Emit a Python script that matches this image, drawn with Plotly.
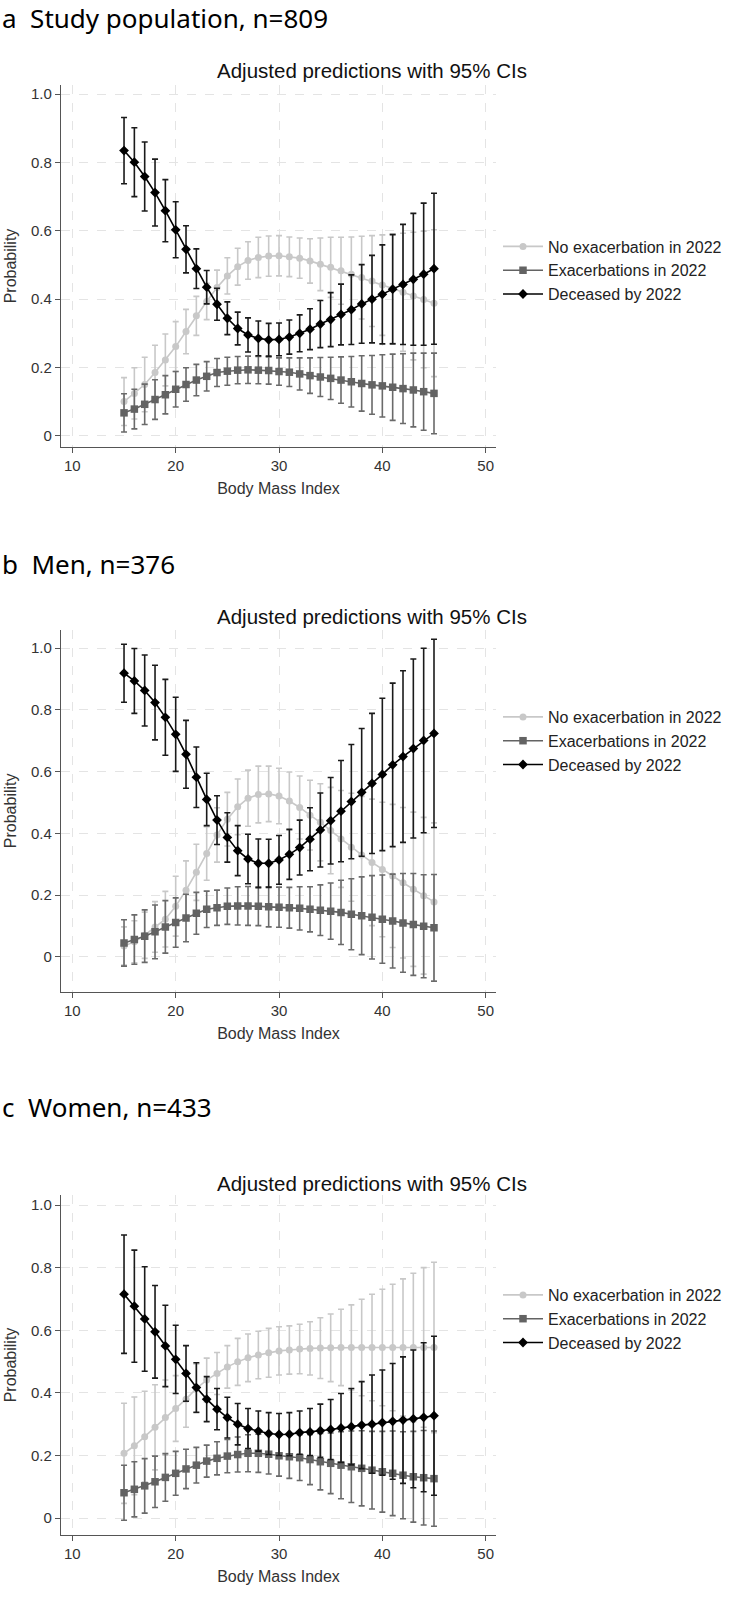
import plotly.graph_objects as go

W, H = 734, 1617

bmi = [15, 16, 17, 18, 19, 20, 21, 22, 23, 24, 25, 26, 27, 28, 29, 30,
       31, 32, 33, 34, 35, 36, 37, 38, 39, 40, 41, 42, 43, 44, 45]

series_names = ["No exacerbation in 2022", "Exacerbations in 2022", "Deceased by 2022"]

# ---- Panel a: Study population ----
a_noexac = [0.100, 0.124, 0.150, 0.185, 0.222, 0.261, 0.305, 0.351, 0.393, 0.434, 0.468,
            0.495, 0.513, 0.522, 0.526, 0.527, 0.524, 0.520, 0.512, 0.502, 0.493, 0.483,
            0.473, 0.463, 0.453, 0.441, 0.431, 0.420, 0.409, 0.399, 0.388]
a_noexac_ci = [0.070, 0.075, 0.080, 0.080, 0.076, 0.073, 0.065, 0.057, 0.053, 0.051, 0.053,
               0.054, 0.055, 0.059, 0.059, 0.059, 0.058, 0.059, 0.065, 0.077, 0.088, 0.098,
               0.109, 0.121, 0.133, 0.147, 0.160, 0.173, 0.187, 0.200, 0.215]
a_exac = [0.067, 0.078, 0.092, 0.106, 0.120, 0.136, 0.150, 0.163, 0.174, 0.185, 0.189,
          0.192, 0.193, 0.192, 0.191, 0.188, 0.186, 0.181, 0.176, 0.172, 0.168, 0.163,
          0.158, 0.153, 0.149, 0.146, 0.142, 0.138, 0.134, 0.129, 0.124]
a_exac_ci = [0.056, 0.058, 0.059, 0.058, 0.056, 0.052, 0.049, 0.046, 0.043, 0.041, 0.041,
             0.040, 0.040, 0.040, 0.040, 0.040, 0.042, 0.047, 0.052, 0.057, 0.062, 0.068,
             0.074, 0.081, 0.086, 0.091, 0.097, 0.102, 0.108, 0.113, 0.118]
a_dead = [0.835, 0.801, 0.759, 0.712, 0.659, 0.603, 0.546, 0.489, 0.435, 0.385, 0.344,
          0.314, 0.295, 0.285, 0.281, 0.282, 0.289, 0.300, 0.312, 0.327, 0.340, 0.355,
          0.369, 0.386, 0.400, 0.414, 0.429, 0.443, 0.458, 0.473, 0.489]
a_dead_ci = [0.097, 0.101, 0.101, 0.098, 0.091, 0.082, 0.069, 0.058, 0.049, 0.047, 0.048,
             0.048, 0.050, 0.051, 0.048, 0.048, 0.050, 0.054, 0.060, 0.069, 0.079, 0.089,
             0.102, 0.115, 0.128, 0.145, 0.160, 0.176, 0.193, 0.208, 0.221]

# ---- Panel b: Men ----
b_noexac = [0.035, 0.049, 0.070, 0.097, 0.122, 0.164, 0.216, 0.274, 0.335, 0.395, 0.446,
            0.486, 0.514, 0.526, 0.528, 0.521, 0.505, 0.484, 0.459, 0.436, 0.409, 0.382,
            0.355, 0.330, 0.306, 0.283, 0.262, 0.240, 0.219, 0.198, 0.178]
b_noexac_ci = [0.062, 0.068, 0.075, 0.082, 0.090, 0.097, 0.095, 0.091, 0.087, 0.088, 0.087,
               0.090, 0.091, 0.092, 0.090, 0.090, 0.094, 0.102, 0.113, 0.125, 0.140, 0.157,
               0.175, 0.190, 0.205, 0.218, 0.232, 0.244, 0.250, 0.254, 0.256]
b_exac = [0.045, 0.056, 0.067, 0.081, 0.097, 0.111, 0.126, 0.141, 0.154, 0.159, 0.164,
          0.165, 0.165, 0.164, 0.162, 0.161, 0.159, 0.157, 0.154, 0.151, 0.148, 0.144,
          0.138, 0.133, 0.128, 0.122, 0.116, 0.110, 0.105, 0.099, 0.094]
b_exac_ci = [0.075, 0.080, 0.085, 0.087, 0.085, 0.080, 0.077, 0.068, 0.059, 0.057, 0.059,
             0.062, 0.063, 0.063, 0.065, 0.065, 0.066, 0.070, 0.073, 0.082, 0.091, 0.104,
             0.115, 0.126, 0.135, 0.143, 0.152, 0.160, 0.165, 0.167, 0.173]
b_dead = [0.919, 0.894, 0.863, 0.824, 0.776, 0.721, 0.656, 0.582, 0.510, 0.443, 0.387,
          0.344, 0.317, 0.303, 0.303, 0.314, 0.332, 0.354, 0.381, 0.411, 0.441, 0.472,
          0.503, 0.533, 0.562, 0.591, 0.622, 0.649, 0.675, 0.701, 0.724]
b_dead_ci = [0.094, 0.105, 0.115, 0.121, 0.123, 0.120, 0.110, 0.098, 0.085, 0.079, 0.080,
             0.081, 0.080, 0.079, 0.078, 0.079, 0.081, 0.089, 0.102, 0.120, 0.140, 0.164,
             0.185, 0.207, 0.227, 0.247, 0.265, 0.278, 0.290, 0.299, 0.305]

# ---- Panel c: Women ----
c_noexac = [0.207, 0.231, 0.260, 0.290, 0.321, 0.350, 0.380, 0.414, 0.441, 0.462, 0.483,
            0.499, 0.512, 0.521, 0.528, 0.534, 0.537, 0.540, 0.542, 0.543, 0.544, 0.545,
            0.545, 0.545, 0.545, 0.545, 0.545, 0.545, 0.545, 0.545, 0.545]
c_noexac_ci = [0.160, 0.156, 0.145, 0.136, 0.120, 0.105, 0.090, 0.078, 0.070, 0.067, 0.068,
               0.075, 0.076, 0.076, 0.078, 0.077, 0.077, 0.079, 0.085, 0.097, 0.108, 0.122,
               0.136, 0.154, 0.170, 0.186, 0.202, 0.219, 0.237, 0.255, 0.272]
c_exac = [0.081, 0.092, 0.103, 0.116, 0.130, 0.143, 0.157, 0.169, 0.182, 0.191, 0.198,
          0.203, 0.207, 0.207, 0.204, 0.199, 0.196, 0.193, 0.187, 0.180, 0.175, 0.169,
          0.164, 0.159, 0.153, 0.148, 0.143, 0.137, 0.132, 0.129, 0.126]
c_exac_ci = [0.088, 0.088, 0.087, 0.082, 0.076, 0.070, 0.063, 0.057, 0.051, 0.053, 0.053,
             0.056, 0.059, 0.061, 0.063, 0.065, 0.069, 0.073, 0.080, 0.090, 0.097, 0.107,
             0.114, 0.120, 0.124, 0.129, 0.135, 0.139, 0.145, 0.151, 0.152]
c_dead = [0.715, 0.677, 0.636, 0.595, 0.550, 0.507, 0.462, 0.417, 0.380, 0.348, 0.321,
          0.300, 0.286, 0.278, 0.270, 0.267, 0.268, 0.273, 0.275, 0.279, 0.283, 0.288,
          0.292, 0.297, 0.300, 0.305, 0.309, 0.313, 0.317, 0.322, 0.327]
c_dead_ci = [0.189, 0.179, 0.167, 0.148, 0.130, 0.109, 0.089, 0.079, 0.072, 0.066, 0.065,
             0.066, 0.064, 0.064, 0.067, 0.067, 0.069, 0.069, 0.075, 0.085, 0.096, 0.110,
             0.122, 0.139, 0.157, 0.168, 0.185, 0.202, 0.220, 0.238, 0.254]

panel_labels = ["a\u00a0\u00a0Study population, n=809",
                "b\u00a0\u00a0Men, n=376",
                "c\u00a0\u00a0Women, n=433"]
plot_title = "Adjusted predictions with 95% CIs"
x_title = "Body Mass Index"
y_title = "Probability"
x_ticks = [10, 20, 30, 40, 50]
y_ticks = [0, 0.2, 0.4, 0.6, 0.8, 1.0]
y_ticktext = ["0", "0.2", "0.4", "0.6", "0.8", "1.0"]

panels = [
    dict(data=[(a_noexac, a_noexac_ci), (a_exac, a_exac_ci), (a_dead, a_dead_ci)],
         top=85, bottom=447, yr=[-0.033, 1.027], label_y=17.5, title_y=70.5, legend_y=242.5),
    dict(data=[(b_noexac, b_noexac_ci), (b_exac, b_exac_ci), (b_dead, b_dead_ci)],
         top=630, bottom=991.7, yr=[-0.113, 1.059], label_y=564, title_y=616, legend_y=713),
    dict(data=[(c_noexac, c_noexac_ci), (c_exac, c_exac_ci), (c_dead, c_dead_ci)],
         top=1195, bottom=1535, yr=[-0.054, 1.032], label_y=1107, title_y=1183, legend_y=1291),
]

styles = [
    dict(color="#c8c8c8", ecolor="#c8c8c8", symbol="circle", size=7),
    dict(color="#636363", ecolor="#6a6a6a", symbol="square", size=7.5),
    dict(color="#000000", ecolor="#1a1a1a", symbol="diamond", size=7.5),
]

FONT = "Liberation Sans, Arial, sans-serif"
fig = go.Figure()
annotations = []
layout = {}
x_left, x_right = 61, 496

for i, p in enumerate(panels):
    n = "" if i == 0 else str(i + 1)
    xa, ya = "x" + n, "y" + n
    legend_name = "legend" + n
    for (vals, ci), name, st in zip(p["data"], series_names, styles):
        fig.add_trace(go.Scatter(
            x=bmi, y=vals, name=name, mode="lines+markers",
            xaxis=xa, yaxis=ya, legend=legend_name,
            line=dict(color=st["color"], width=1.6),
            marker=dict(color=st["color"], symbol=st["symbol"], size=st["size"]),
            error_y=dict(type="data", array=ci, visible=True, color=st["ecolor"],
                         thickness=1.6, width=3),
        ))
    dom_y = [1 - p["bottom"] / H, 1 - p["top"] / H]
    axis_common = dict(showline=True, linecolor="#555555", linewidth=1.3,
                       ticks="outside", ticklen=5, tickcolor="#555555", tickwidth=1.2,
                       showgrid=True, gridcolor="#e4e4e4", griddash="dash", gridwidth=1,
                       zeroline=False, tickfont=dict(family=FONT, size=15, color="#333333"))
    layout["xaxis" + n] = dict(domain=[x_left / W, x_right / W], range=[8.9, 51.0],
                               tickvals=x_ticks, anchor=ya,
                               title=dict(text=x_title, standoff=9,
                                          font=dict(family=FONT, size=16, color="#333333")),
                               **axis_common)
    layout["yaxis" + n] = dict(domain=dom_y, range=p["yr"], tickvals=y_ticks,
                               ticktext=y_ticktext, anchor=xa,
                               title=dict(text=y_title, standoff=10,
                                          font=dict(family=FONT, size=16, color="#333333")),
                               **axis_common)
    layout[legend_name] = dict(x=498 / W, xanchor="left", y=1 - (p["legend_y"] - 13) / H,
                               yanchor="top", font=dict(family=FONT, size=16, color="#222222"),
                               bgcolor="rgba(0,0,0,0)", tracegroupgap=0, itemwidth=40)
    annotations.append(dict(text=panel_labels[i], x=0, xanchor="left", xref="paper",
                            y=1 - p["label_y"] / H, yanchor="middle", yref="paper",
                            showarrow=False,
                            font=dict(family="Noto Sans, sans-serif", size=26, color="#000000")))
    annotations.append(dict(text=plot_title, x=371.5 / W, xanchor="center", xref="paper",
                            y=1 - p["title_y"] / H, yanchor="middle", yref="paper",
                            showarrow=False,
                            font=dict(family=FONT, size=20.5, color="#111111")))

fig.update_layout(width=W, height=H, margin=dict(l=0, r=0, t=0, b=0),
                  paper_bgcolor="white", plot_bgcolor="white",
                  showlegend=True, annotations=annotations, **layout)

fig.write_html("out.html")
